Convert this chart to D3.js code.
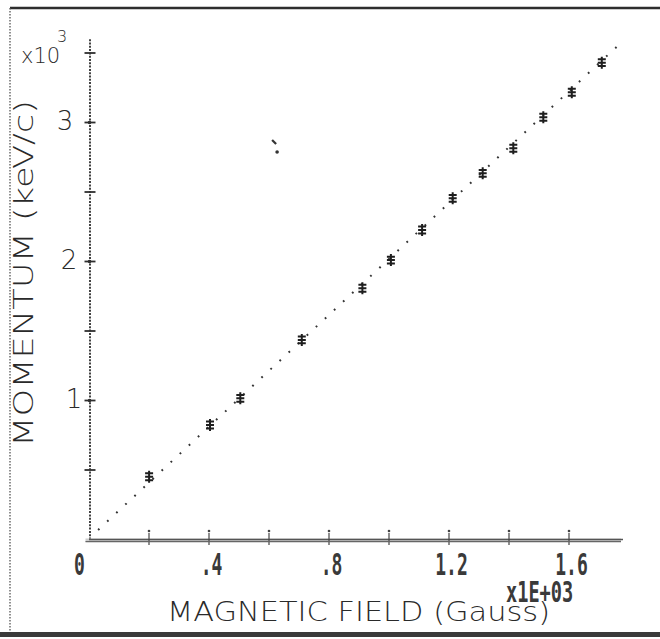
<!DOCTYPE html>
<html>
<head>
<meta charset="utf-8">
<script src="https://cdn.jsdelivr.net/npm/d3@7/dist/d3.min.js"></script>
<style>
  html, body { margin: 0; padding: 0; background: #fff; }
  svg { display: block; }
  .hand { font-family: "DejaVu Sans", sans-serif; font-weight: 200; fill: #2a2a2a; }
  .dot { font-family: "DejaVu Sans Mono", monospace; font-weight: bold; fill: #3a3a3a; }
</style>
</head>
<body>
<svg id="chart" width="660" height="639"></svg>
<script>
// Magnetic field (kGauss) vs measured momentum (10^3 keV/c)
const fieldValues    = [0.202, 0.405, 0.506, 0.711, 0.913, 1.008, 1.112, 1.214, 1.314, 1.416, 1.516, 1.611, 1.711];
const momentumValues = [0.448, 0.820, 1.012, 1.432, 1.804, 2.007, 2.223, 2.451, 2.631, 2.811, 3.034, 3.214, 3.427];

// stray reading, plotted on its own
const strayField = [0.622];
const strayMomentum = [2.82];

// calibration line p = k·B (end points)
const fitField    = [0.032, 1.778];
const fitMomentum = [0.065, 3.576];

// axis ticks and labels
const xTickValues  = [0.2, 0.4, 0.6, 0.8, 1.0, 1.2, 1.4, 1.6];
const xLabelValues = [0, 0.4, 0.8, 1.2, 1.6];
const xLabelText   = ["0", ".4", ".8", "1.2", "1.6"];
const yTickValues  = [0.5, 1, 1.5, 2, 2.5, 3, 3.5];
const yLabelValues = [1, 2, 3];
const yLabelText   = ["1", "2", "3"];

const svg = d3.select("#chart");

const x = d3.scaleLinear().domain([0, 1.78]).range([88.5, 622.5]);
const y = d3.scaleLinear().domain([0, 3.6]).range([539, 38.6]);

// page frame
svg.append("line").attr("x1", 10).attr("x2", 660).attr("y1", 8).attr("y2", 8)
  .attr("stroke", "#2e2e2e").attr("stroke-width", 2.6);
svg.append("line").attr("x1", 10).attr("x2", 10).attr("y1", 8).attr("y2", 634)
  .attr("stroke", "#555").attr("stroke-width", 1.3).attr("stroke-dasharray", "1.6,1.4");
svg.append("rect").attr("x", 0).attr("y", 632).attr("width", 660).attr("height", 5)
  .attr("fill", "#3a3a3a");

// y axis (dot-matrix style)
const yAxis = svg.append("g").attr("transform", `translate(${x(0) + 1},0)`)
  .call(d3.axisLeft(y).tickValues(yTickValues).tickFormat("").tickSizeOuter(0));
yAxis.select(".domain").attr("stroke", "#2e2e2e").attr("stroke-width", 1.8)
  .attr("stroke-dasharray", "2,1.3");
yAxis.selectAll(".tick line").attr("x1", -5).attr("x2", 6)
  .attr("stroke", "#2e2e2e").attr("stroke-width", 1.8);
yAxis.selectAll(".tick").filter(d => Number.isInteger(d)).append("circle")
  .attr("r", 1.8).attr("fill", "#2e2e2e");

// x axis: double ruled line with crossing ticks
const xAxis = svg.append("g").attr("transform", `translate(0,${y(0)})`)
  .call(d3.axisBottom(x).tickValues(xTickValues).tickFormat("").tickSizeOuter(0));
xAxis.select(".domain").attr("stroke", "#555").attr("stroke-width", 1.6);
xAxis.append("line").attr("x1", x(0) - 3).attr("x2", x(1.775)).attr("y1", 2.6).attr("y2", 2.6)
  .attr("stroke", "#666").attr("stroke-width", 1.4);
xAxis.insert("line", ":first-child").attr("x1", x(0) - 3).attr("x2", x(1.775)).attr("y1", 1.2).attr("y2", 1.2)
  .attr("stroke", "#ccc").attr("stroke-width", 3.5);
xAxis.selectAll(".tick line").attr("y1", -6).attr("y2", 6)
  .attr("stroke", "#444").attr("stroke-width", 1.2);
xAxis.selectAll(".tick").append("circle").attr("cy", -8).attr("r", 1.3).attr("fill", "#444");

// x tick labels, tall narrow printer digits
svg.append("g").selectAll("text").data(xLabelValues).join("text")
  .attr("class", "dot")
  .attr("font-size", 19)
  .attr("text-anchor", "middle")
  .attr("transform", (d, i) => `translate(${x(d) + (i === 0 ? -9 : 3)},${575}) scale(0.95,1.55)`)
  .text((d, i) => xLabelText[i]);

// exponent tag
svg.append("text").attr("class", "dot").attr("font-size", 19)
  .attr("transform", `translate(506,602) scale(0.98,1.45)`)
  .text("x1E+03");

// y labels, handwritten
svg.append("g").selectAll("text").data(yLabelValues).join("text")
  .attr("class", "hand")
  .attr("font-size", 26)
  .attr("text-anchor", "middle")
  .attr("x", (d, i) => [74, 69, 65][i])
  .attr("y", d => y(d) + 8)
  .text((d, i) => yLabelText[i]);

svg.append("text").attr("class", "hand").attr("font-size", 21).attr("x", 21).attr("y", 63).text("x10");
svg.append("text").attr("class", "hand").attr("font-size", 16).attr("x", 57).attr("y", 42).text("3");

// axis titles
svg.append("text").attr("class", "hand").attr("font-size", 26)
  .attr("transform", "translate(33,447) rotate(-90)")
  .attr("textLength", 347).attr("lengthAdjust", "spacingAndGlyphs")
  .text("MOMENTUM (keV/c)");
svg.append("text").attr("class", "hand").attr("font-size", 26)
  .attr("x", 167).attr("y", 621)
  .attr("textLength", 383).attr("lengthAdjust", "spacingAndGlyphs")
  .text("MAGNETIC FIELD (Gauss)");

// calibration line, dotted
const fitPts = fitField.map((b, i) => [b, fitMomentum[i]]);
svg.append("path")
  .attr("d", d3.line().x(d => x(d[0])).y(d => y(d[1]))(fitPts))
  .attr("fill", "none").attr("stroke", "#333").attr("stroke-width", 2)
  .attr("stroke-dasharray", "1.8,10.6");

// measured points
const marker = "M-4,-3.4h8M-4,0h8M-4,3.4h8M0,-6v12";
svg.append("g").selectAll("path").data(fieldValues).join("path")
  .attr("d", marker)
  .attr("transform", (d, i) => `translate(${x(d)},${y(momentumValues[i])})`)
  .attr("fill", "none").attr("stroke", "#1e1e1e").attr("stroke-width", 2);

// stray reading
const stray = svg.append("g").selectAll("g").data(strayField).join("g")
  .attr("transform", (d, i) => `translate(${x(d)},${y(strayMomentum[i])})`);
stray.append("path").attr("d", "M-3,-7L1,-3").attr("stroke", "#333").attr("stroke-width", 2.2);
stray.append("circle").attr("cx", 2).attr("cy", 5).attr("r", 1.8).attr("fill", "#333");
</script>
</body>
</html>
